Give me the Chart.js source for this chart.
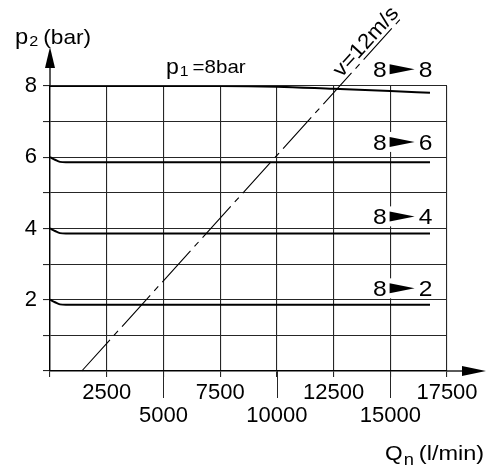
<!DOCTYPE html>
<html>
<head>
<meta charset="utf-8">
<script src="https://cdn.jsdelivr.net/npm/chart.js@4.4.0/dist/chart.umd.min.js"></script>
<style>
html, body { margin: 0; padding: 0; background: #fff; }
#wrap { width: 495px; height: 473px; }
</style>
</head>
<body>
<div id="wrap"><canvas id="chart" width="495" height="473"></canvas></div>
<script>
const curveFlow = [0, 220, 440, 700, 7500, 10000, 12500, 15000, 16750];
// Outlet pressure p2 (bar) for inlet p1 = 8 bar
const p2Set8 = [8, 8, 8, 8, 8, 7.98, 7.92, 7.86, 7.81];
const p2Set6 = [6, 5.93, 5.87, 5.86, 5.86, 5.86, 5.86, 5.86, 5.86];
const p2Set4 = [4, 3.93, 3.87, 3.86, 3.86, 3.86, 3.86, 3.86, 3.86];
const p2Set2 = [2, 1.93, 1.87, 1.86, 1.86, 1.86, 1.86, 1.86, 1.86];

// v = 12 m/s limit line
const velFlow = [1400, 15500];
const velP2 = [0, 9.92];

// "8 > x" curve labels
const setFrom = ['8', '8', '8', '8'];
const setTo = ['8', '6', '4', '2'];
const setLabelP2 = [8.47, 6.43, 4.34, 2.32];
const setLabelFlow = 15500;

const FONT = "'Liberation Sans', Arial, Helvetica, sans-serif";
const GRID = '#262626';

function pts(xs, ys) {
    return xs.map((x, i) => ({ x: x, y: ys[i] }));
}

// draw text a bit wider than normal, like the original print
function wideText(ctx, str, x, y, size, sx) {
    ctx.save();
    ctx.font = size + 'px ' + FONT;
    ctx.translate(x, y);
    ctx.scale(sx, 1);
    ctx.fillText(str, 0, 0);
    const w = ctx.measureText(str).width * sx;
    ctx.restore();
    return w;
}

const overlay = {
    id: 'overlay',
    afterDraw(chart) {
        const ctx = chart.ctx;
        const xs = chart.scales.x;
        const ys = chart.scales.y;
        const a = chart.chartArea;
        ctx.save();
        ctx.fillStyle = '#000';
        ctx.strokeStyle = '#000';
        ctx.textAlign = 'left';
        ctx.textBaseline = 'alphabetic';

        // axis arrows
        ctx.lineWidth = 1.3;
        ctx.beginPath();
        ctx.moveTo(a.left, a.top);
        ctx.lineTo(a.left, 64);
        ctx.stroke();
        ctx.beginPath();
        ctx.moveTo(a.left, 47);
        ctx.lineTo(a.left - 5, 68);
        ctx.lineTo(a.left + 5, 68);
        ctx.closePath();
        ctx.fill();

        ctx.beginPath();
        ctx.moveTo(a.right, a.bottom);
        ctx.lineTo(464, a.bottom);
        ctx.stroke();
        ctx.beginPath();
        ctx.moveTo(486, a.bottom);
        ctx.lineTo(462, a.bottom - 5);
        ctx.lineTo(462, a.bottom + 5);
        ctx.closePath();
        ctx.fill();

        // longer ticks for the lower row of flow labels
        ctx.strokeStyle = GRID;
        ctx.lineWidth = 1;
        [5000, 10000, 15000].forEach(v => {
            const px = Math.round(xs.getPixelForValue(v)) + 0.5;
            ctx.beginPath();
            ctx.moveTo(px, a.bottom);
            ctx.lineTo(px, a.bottom + 27);
            ctx.stroke();
        });

        // axis titles
        let x = 15;
        x += wideText(ctx, 'p', x, 44, 22, 1.08);
        x += wideText(ctx, '2', x + 1, 46, 15, 1.08) + 6;
        wideText(ctx, '(bar)', x, 44, 21, 1.08);

        x = 385;
        x += wideText(ctx, 'Q', x, 460, 21, 1.08);
        x += wideText(ctx, 'n', x + 1, 465, 17, 1.08) + 6;
        wideText(ctx, '(l/min)', x, 460, 21, 1.12);

        // p1 note
        x = 166;
        x += wideText(ctx, 'p', x, 74, 22, 1.05);
        x += wideText(ctx, '1', x + 1, 76, 15, 1.05) + 5;
        wideText(ctx, '=8bar', x, 73, 19, 1.08);

        // curve labels
        const cx = xs.getPixelForValue(setLabelFlow);
        setTo.forEach((to, i) => {
            const cy = ys.getPixelForValue(setLabelP2[i]);
            ctx.fillStyle = '#fff';
            ctx.fillRect(cx - 30, cy - 10, 64, 20);
            ctx.fillStyle = '#000';
            ctx.save();
            ctx.font = '22px ' + FONT;
            ctx.translate(cx - 15, cy + 8);
            ctx.scale(1.12, 1);
            ctx.textAlign = 'right';
            ctx.fillText(setFrom[i], 0, 0);
            ctx.restore();
            ctx.beginPath();
            ctx.moveTo(cx - 12, cy - 5);
            ctx.lineTo(cx + 13, cy);
            ctx.lineTo(cx - 12, cy + 5);
            ctx.closePath();
            ctx.fill();
            wideText(ctx, to, cx + 17, cy + 8, 22, 1.12);
        });

        // v = 12 m/s label along the dashed line
        const x0 = xs.getPixelForValue(velFlow[0]), y0 = ys.getPixelForValue(velP2[0]);
        const x1 = xs.getPixelForValue(velFlow[1]), y1 = ys.getPixelForValue(velP2[1]);
        const ang = Math.atan2(y1 - y0, x1 - x0);
        ctx.save();
        ctx.translate(xs.getPixelForValue(14260), ys.getPixelForValue(9.05));
        ctx.rotate(ang);
        ctx.scale(1.08, 1);
        ctx.font = '21px ' + FONT;
        ctx.textAlign = 'center';
        ctx.fillText('v=12m/s', 0, -4);
        ctx.restore();

        ctx.restore();
    }
};

const curveStyle = {
    borderColor: '#000',
    borderWidth: 2,
    pointRadius: 0,
    fill: false,
    cubicInterpolationMode: 'monotone'
};

new Chart(document.getElementById('chart'), {
    type: 'line',
    data: {
        datasets: [
            Object.assign({ data: pts(curveFlow, p2Set8) }, curveStyle),
            Object.assign({ data: pts(curveFlow, p2Set6) }, curveStyle),
            Object.assign({ data: pts(curveFlow, p2Set4) }, curveStyle),
            Object.assign({ data: pts(curveFlow, p2Set2) }, curveStyle),
            {
                data: pts(velFlow, velP2),
                borderColor: '#000',
                borderWidth: 1.1,
                borderDash: [42, 6, 6, 6],
                pointRadius: 0,
                fill: false,
                clip: false
            }
        ]
    },
    options: {
        responsive: false,
        animation: false,
        layout: { padding: { top: 86, right: 48, left: 0, bottom: 0 } },
        plugins: {
            legend: { display: false },
            tooltip: { enabled: false }
        },
        scales: {
            x: {
                type: 'linear',
                min: 0,
                max: 17500,
                afterFit: s => { s.height = 102; },
                ticks: {
                    stepSize: 2500,
                    autoSkip: false,
                    maxRotation: 0,
                    padding: 4,
                    color: '#000',
                    font: { family: FONT, size: 22, lineHeight: 1.045 },
                    callback: v => {
                        if (v === 0) return '';
                        return (v / 2500) % 2 === 1 ? [String(v)] : ['', String(v)];
                    }
                },
                grid: { color: GRID, lineWidth: 1.1, tickLength: 6 },
                border: { color: '#000', width: 1.4 }
            },
            y: {
                min: 0,
                max: 8,
                afterFit: s => { s.width = 50; },
                ticks: {
                    stepSize: 1,
                    padding: 6,
                    color: '#000',
                    font: { family: FONT, size: 22 },
                    callback: v => (v > 0 && v % 2 === 0) ? String(v) : ''
                },
                grid: { color: GRID, lineWidth: 1.1, tickLength: 7 },
                border: { color: '#000', width: 1.4 }
            }
        }
    },
    plugins: [overlay]
});
</script>
</body>
</html>
